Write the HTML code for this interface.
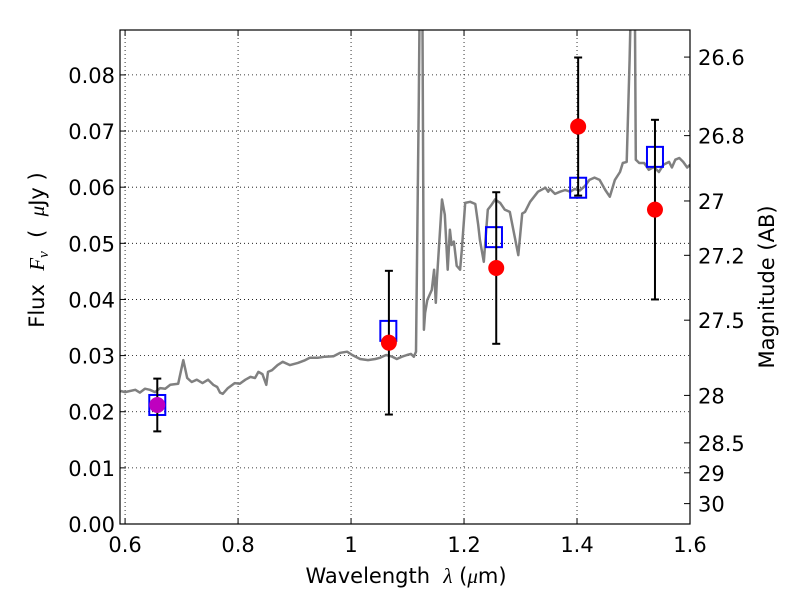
<!DOCTYPE html>
<html><head><meta charset="utf-8"><style>
html,body{margin:0;padding:0;background:#fff;}
svg text{font-family:"DejaVu Sans","Liberation Sans",sans-serif;fill:#000;}
</style></head><body>
<svg id="chart" width="800" height="600" xmlns="http://www.w3.org/2000/svg">
<defs><clipPath id="clip"><rect x="120" y="30" width="570" height="494"/></clipPath></defs>
<rect width="800" height="600" fill="#fff"/>
<g id="grid"></g>
<g id="spec" clip-path="url(#clip)"></g>
<g id="phot"></g>
<rect x="120" y="30" width="570" height="494" fill="none" stroke="#000" stroke-width="1.2"/>
<g id="axes"></g>
<text x="406" y="583" font-size="21" text-anchor="middle" xml:space="preserve">Wavelength  <tspan font-family="Liberation Serif" font-style="italic">λ</tspan> (<tspan font-family="Liberation Serif" font-style="italic">μ</tspan>m)</text>
<text transform="translate(44,250) rotate(-90)" font-size="21" text-anchor="middle" xml:space="preserve">Flux  <tspan font-family="Liberation Serif" font-style="italic">F<tspan font-size="15" dy="4">ν</tspan></tspan><tspan dy="-4">  (  </tspan><tspan font-family="Liberation Serif" font-style="italic">μ</tspan>Jy )</text>
<text transform="translate(774,287) rotate(-90)" font-size="21" text-anchor="middle">Magnitude (AB)</text>
</svg>
<script>
const specLam=[0.592,0.600,0.618,0.626,0.635,0.644,0.653,0.662,0.671,0.680,0.694,0.703,0.706,0.710,0.718,0.727,0.737,0.747,0.756,0.763,0.768,0.773,0.782,0.794,0.803,0.813,0.822,0.830,0.836,0.843,0.850,0.853,0.860,0.870,0.879,0.892,0.906,0.917,0.927,0.941,0.954,0.969,0.981,0.993,1.002,1.016,1.030,1.043,1.051,1.062,1.073,1.081,1.090,1.099,1.106,1.111,1.115,1.120,1.122,1.126,1.129,1.131,1.135,1.143,1.147,1.150,1.152,1.161,1.166,1.171,1.175,1.178,1.182,1.187,1.193,1.196,1.202,1.211,1.220,1.225,1.228,1.235,1.242,1.249,1.255,1.264,1.272,1.281,1.290,1.296,1.303,1.308,1.317,1.331,1.344,1.349,1.352,1.361,1.370,1.379,1.388,1.396,1.405,1.414,1.422,1.431,1.440,1.450,1.458,1.467,1.476,1.481,1.488,1.493,1.497,1.502,1.504,1.510,1.519,1.527,1.536,1.545,1.553,1.563,1.568,1.574,1.581,1.588,1.595,1.600];
const specFlux=[0.0237,0.0235,0.0239,0.0234,0.0241,0.0239,0.0235,0.0242,0.0241,0.0248,0.0250,0.0292,0.0278,0.0260,0.0253,0.0257,0.0251,0.0257,0.0248,0.0244,0.0234,0.0232,0.0242,0.0251,0.0250,0.0257,0.0262,0.0260,0.0271,0.0267,0.0248,0.0271,0.0274,0.0283,0.0289,0.0283,0.0287,0.0291,0.0296,0.0296,0.0298,0.0299,0.0305,0.0307,0.0301,0.0294,0.0292,0.0294,0.0296,0.0301,0.0298,0.0294,0.0298,0.0301,0.0303,0.0298,0.0307,0.0756,0.1,0.1,0.0346,0.0376,0.0399,0.0417,0.0453,0.0394,0.0435,0.0578,0.0551,0.0453,0.0524,0.0497,0.0503,0.0460,0.0453,0.0488,0.0572,0.0574,0.0570,0.0533,0.0506,0.0467,0.0560,0.0569,0.0578,0.0572,0.0560,0.0556,0.0510,0.0479,0.0553,0.0556,0.0574,0.0592,0.0599,0.0592,0.0597,0.0588,0.0592,0.0595,0.0592,0.0597,0.0594,0.0602,0.0613,0.0617,0.0613,0.0595,0.0583,0.0613,0.0627,0.0643,0.0645,0.0827,0.1,0.1,0.0649,0.0643,0.0643,0.0631,0.0636,0.0627,0.0640,0.0645,0.0635,0.0649,0.0652,0.0645,0.0635,0.0640];
const photLam=[0.657,1.067,1.257,1.402,1.538];
const photObs=[0.0212,0.0323,0.0456,0.0708,0.0560];
const photErr=[0.0047,0.0128,0.0135,0.0123,0.0160];
const modelLam=[0.657,1.066,1.253,1.402,1.538];
const modelFlux=[0.0212,0.0344,0.0511,0.0599,0.0654];
const xTicks=[0.6,0.8,1.0,1.2,1.4,1.6];
const xTickLabels=["0.6","0.8","1","1.2","1.4","1.6"];
const yTicks=[0,0.01,0.02,0.03,0.04,0.05,0.06,0.07,0.08];
const yTickLabels=["0.00","0.01","0.02","0.03","0.04","0.05","0.06","0.07","0.08"];
const magTicks=[26.6,26.8,27,27.2,27.5,28,28.5,29,30];
const magTickLabels=["26.6","26.8","27","27.2","27.5","28","28.5","29","30"];

const X0=120,X1=690,Y0=524,Y1=30,XMIN=0.591,XMAX=1.6,YMIN=0,YMAX=0.088;
const sx=v=>X0+(v-XMIN)/(XMAX-XMIN)*(X1-X0);
const sy=v=>Y0-(v-YMIN)/(YMAX-YMIN)*(Y0-Y1);
const magToFlux=m=>Math.pow(10,(23.9-m)/2.5);
const NS="http://www.w3.org/2000/svg";
function mk(tag,attrs,parent){const e=document.createElementNS(NS,tag);for(const k in attrs)e.setAttribute(k,attrs[k]);parent.appendChild(e);return e;}
const grid=document.getElementById('grid'),axes=document.getElementById('axes'),spec=document.getElementById('spec'),phot=document.getElementById('phot');

xTicks.forEach((t,i)=>{const x=sx(t);
 if(x>X0+1&&x<X1-1){const g=mk('line',{x1:x,x2:x,y1:Y1,y2:Y0,stroke:'#000','stroke-width':0.8,'stroke-dasharray':'1,3'},grid);
 }
 const a=mk('line',{x1:x,x2:x,y1:Y0,y2:Y0-6,stroke:'#000'},axes);
 const b=mk('line',{x1:x,x2:x,y1:Y1,y2:Y1+6,stroke:'#000'},axes);
 const tx=mk('text',{x:x,y:Y0+28,'font-size':21,'text-anchor':'middle'},axes);tx.textContent=xTickLabels[i];
 });
yTicks.forEach((t,i)=>{const y=sy(t);
 if(y<Y0-1){const g=mk('line',{x1:X0,x2:X1,y1:y,y2:y,stroke:'#000','stroke-width':0.8,'stroke-dasharray':'1,3'},grid);
 }
 const a=mk('line',{x1:X0,x2:X0+6,y1:y,y2:y,stroke:'#000'},axes);
 const tx=mk('text',{x:X0-5,y:y+8,'font-size':21,'text-anchor':'end'},axes);tx.textContent=yTickLabels[i];
 });
magTicks.forEach((m,i)=>{const y=sy(magToFlux(m));
 const a=mk('line',{x1:X1,x2:X1-6,y1:y,y2:y,stroke:'#000'},axes);
 const tx=mk('text',{x:X1+8,y:y+8,'font-size':21,'text-anchor':'start'},axes);tx.textContent=magTickLabels[i];
 });

const pts=specLam.map((l,i)=>sx(l).toFixed(1)+','+sy(specFlux[i]).toFixed(1)).join(' ');
const pl=mk('polyline',{points:pts,fill:'none',stroke:'#808080','stroke-width':2.5,'stroke-linejoin':'round'},spec);


modelLam.forEach((l,i)=>{const x=sx(l),y=sy(modelFlux[i]);
 const r=mk('rect',{x:x-8,y:y-10,width:16,height:20,fill:'none',stroke:'#0000ff','stroke-width':2},phot);
 });
photLam.forEach((l,i)=>{const x=sx(l),y=sy(photObs[i]),yl=sy(photObs[i]-photErr[i]),yh=sy(photObs[i]+photErr[i]);
 const e=mk('line',{x1:x,x2:x,y1:yl,y2:yh,stroke:'#000','stroke-width':2},phot);
 const c1=mk('line',{x1:x-4,x2:x+4,y1:yl,y2:yl,stroke:'#000','stroke-width':2},phot);
 const c2=mk('line',{x1:x-4,x2:x+4,y1:yh,y2:yh,stroke:'#000','stroke-width':2},phot);
 const c=mk('circle',{cx:x,cy:y,r:8,fill:i===0?'#bf00bf':'#ff0000',stroke:'none'},phot);
 });
</script>
</body></html>
